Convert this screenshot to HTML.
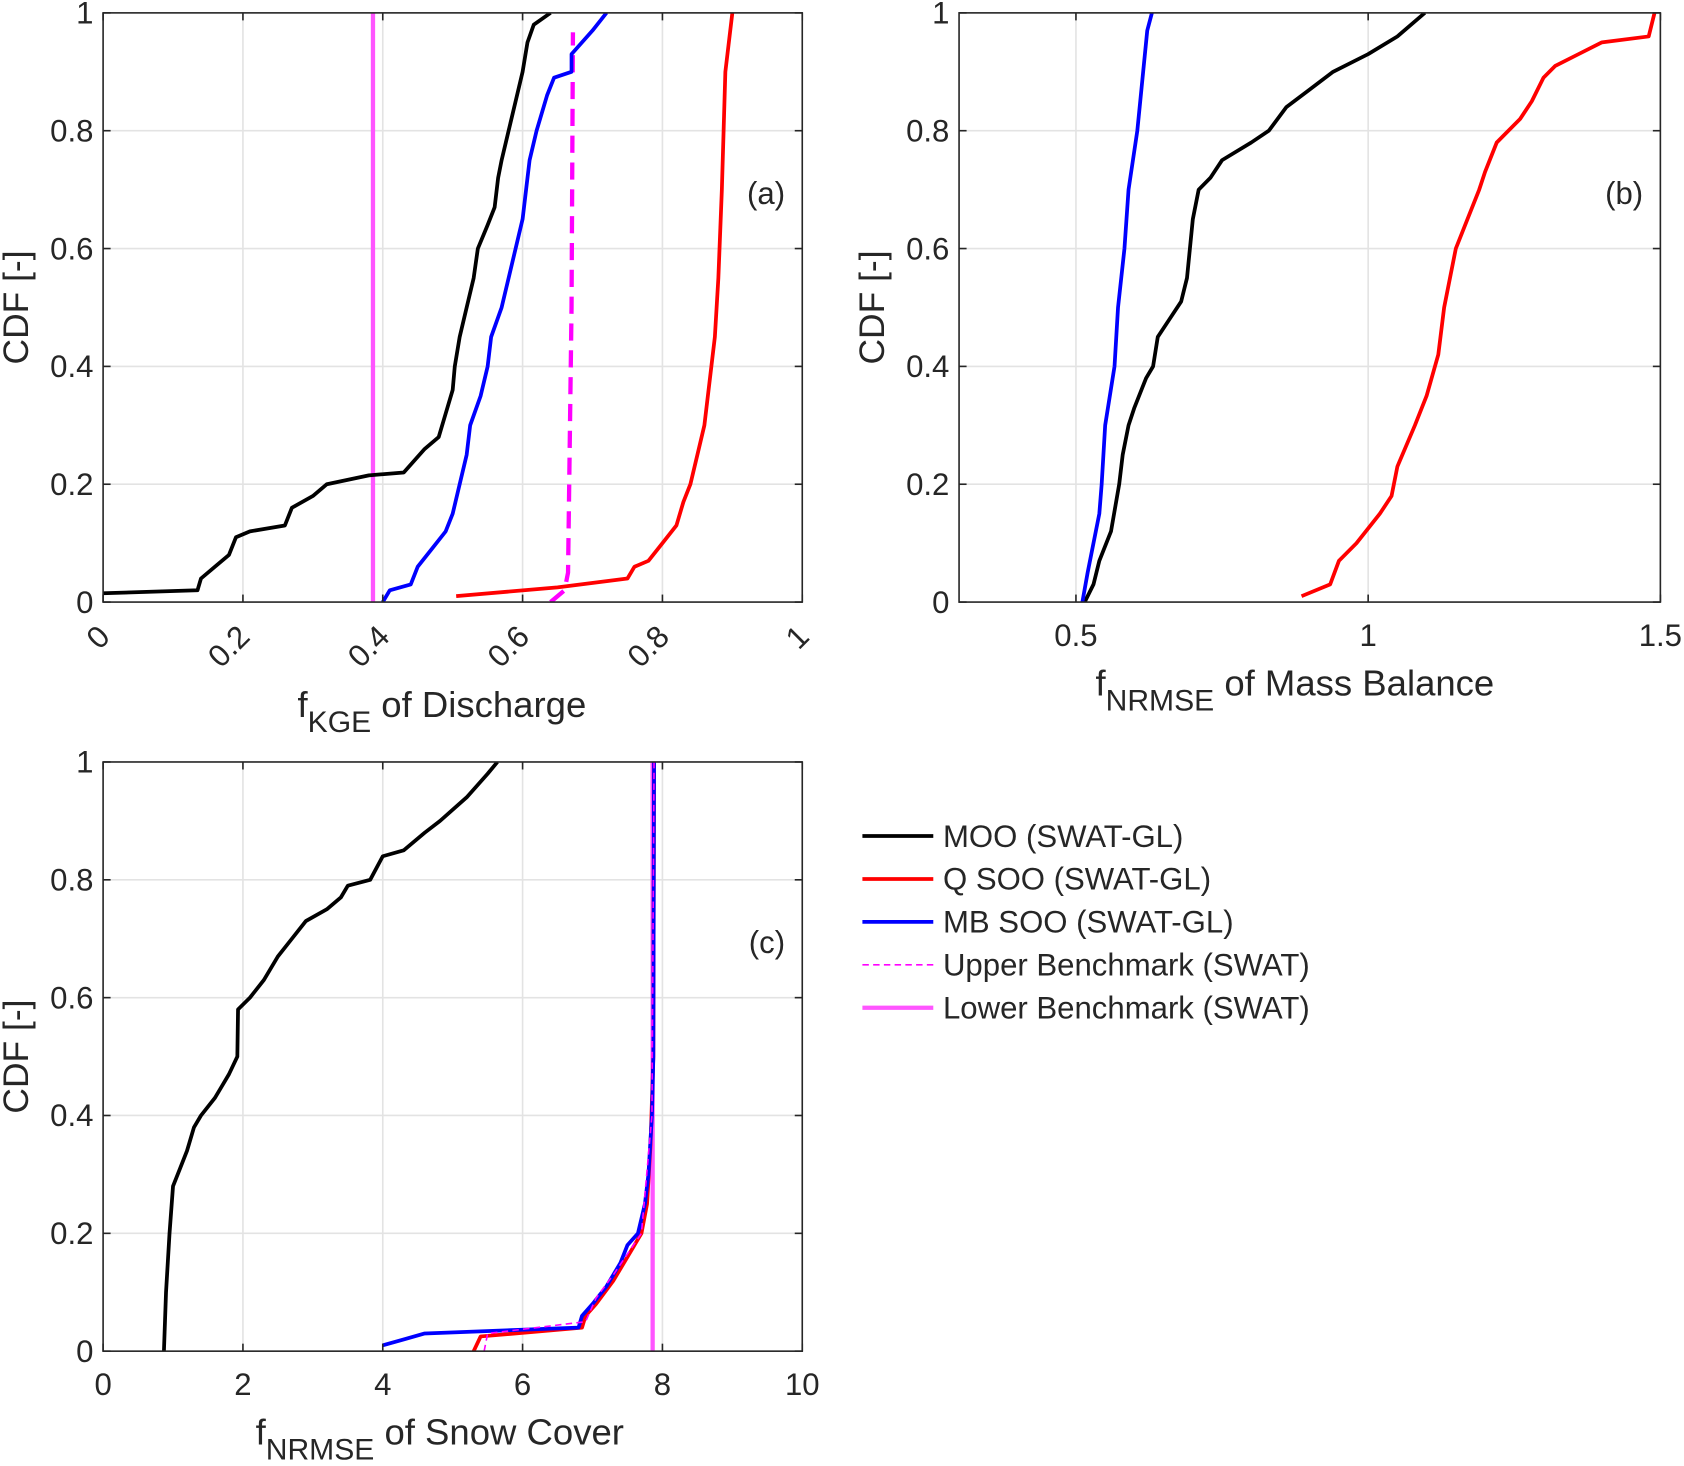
<!DOCTYPE html>
<html><head><meta charset="utf-8"><style>body{margin:0;background:#fff}svg{display:block}text{font-family:"Liberation Sans",sans-serif;fill:#262626}</style></head>
<body>
<svg id="fig" width="1684" height="1466" viewBox="0 0 1568 1366" preserveAspectRatio="none" xmlns="http://www.w3.org/2000/svg"></svg>
<script>
// Panel (a) data
const aMoo=[[0,0.015],[0.135,0.02],[0.14,0.04],[0.16,0.06],[0.18,0.08],[0.19,0.11],[0.21,0.12],[0.26,0.13],[0.27,0.16],[0.3,0.18],[0.32,0.2],[0.38,0.215],[0.43,0.22],[0.46,0.26],[0.48,0.28],[0.49,0.32],[0.5,0.36],[0.503,0.4],[0.51,0.45],[0.52,0.5],[0.53,0.55],[0.536,0.6],[0.55,0.64],[0.56,0.67],[0.565,0.72],[0.57,0.75],[0.58,0.8],[0.59,0.85],[0.6,0.9],[0.607,0.95],[0.616,0.98],[0.64,1]];
const aQ=[[0.505,0.01],[0.65,0.025],[0.75,0.04],[0.76,0.06],[0.78,0.07],[0.8,0.1],[0.82,0.13],[0.83,0.17],[0.84,0.2],[0.85,0.25],[0.86,0.3],[0.87,0.4],[0.875,0.45],[0.88,0.55],[0.885,0.7],[0.89,0.9],[0.9,1]];
const aMb=[[0.4,0],[0.41,0.02],[0.44,0.03],[0.45,0.06],[0.47,0.09],[0.49,0.12],[0.5,0.15],[0.51,0.2],[0.52,0.25],[0.525,0.3],[0.54,0.35],[0.55,0.4],[0.555,0.45],[0.57,0.5],[0.58,0.55],[0.59,0.6],[0.6,0.65],[0.605,0.7],[0.61,0.75],[0.62,0.8],[0.635,0.86],[0.645,0.89],[0.67,0.9],[0.67,0.93],[0.7,0.97],[0.72,1]];
const aUpper=[[0.64,0],[0.66,0.02],[0.665,0.05],[0.67,0.5],[0.672,0.967]];
const aLower=0.386;
// Panel (b) data
const bMoo=[[0.515,0],[0.53,0.03],[0.54,0.07],[0.56,0.12],[0.574,0.2],[0.58,0.25],[0.59,0.3],[0.6,0.33],[0.62,0.38],[0.632,0.4],[0.64,0.45],[0.66,0.48],[0.68,0.51],[0.69,0.55],[0.7,0.65],[0.71,0.7],[0.73,0.72],[0.75,0.75],[0.8,0.78],[0.83,0.8],[0.86,0.84],[0.9,0.87],[0.94,0.9],[1.0,0.93],[1.05,0.96],[1.097,1]];
const bQ=[[0.886,0.01],[0.935,0.03],[0.95,0.07],[0.98,0.1],[1.02,0.15],[1.04,0.18],[1.05,0.23],[1.08,0.3],[1.1,0.35],[1.12,0.42],[1.13,0.5],[1.14,0.55],[1.15,0.6],[1.17,0.65],[1.19,0.7],[1.2,0.73],[1.22,0.78],[1.26,0.82],[1.28,0.85],[1.3,0.89],[1.32,0.91],[1.36,0.93],[1.4,0.95],[1.48,0.96],[1.49,1]];
const bMb=[[0.511,0],[0.52,0.05],[0.53,0.1],[0.54,0.15],[0.544,0.2],[0.55,0.3],[0.566,0.4],[0.572,0.5],[0.583,0.6],[0.59,0.7],[0.605,0.8],[0.61,0.85],[0.615,0.9],[0.622,0.97],[0.63,1]];
// Panel (c) data
const cMoo=[[0.87,0],[0.9,0.1],[0.95,0.2],[1.0,0.28],[1.1,0.31],[1.2,0.34],[1.3,0.38],[1.4,0.4],[1.6,0.43],[1.7,0.45],[1.8,0.47],[1.92,0.5],[1.93,0.58],[2.1,0.6],[2.3,0.63],[2.5,0.67],[2.7,0.7],[2.9,0.73],[3.2,0.75],[3.4,0.77],[3.5,0.79],[3.82,0.8],[4.0,0.84],[4.3,0.85],[4.6,0.88],[4.82,0.9],[5.2,0.94],[5.5,0.98],[5.64,1]];
const cQ=[[5.3,0],[5.4,0.025],[6.85,0.04],[6.9,0.06],[7.05,0.08],[7.3,0.12],[7.5,0.16],[7.7,0.2],[7.78,0.25],[7.83,0.35],[7.87,0.5],[7.88,1]];
const cMb=[[4.0,0.01],[4.3,0.02],[4.6,0.03],[6.8,0.04],[6.85,0.06],[7.0,0.08],[7.2,0.11],[7.4,0.15],[7.5,0.18],[7.65,0.2],[7.75,0.25],[7.8,0.3],[7.85,0.4],[7.87,0.5],[7.88,1]];
const cUpper=[[5.45,0],[5.5,0.03],[6.9,0.05],[7.05,0.09],[7.3,0.13],[7.7,0.2],[7.85,0.4],[7.88,1]];
const cLower=7.86;
const yTicks=[0,0.2,0.4,0.6,0.8,1];
const aTicks=[0,0.2,0.4,0.6,0.8,1], aTickLabels=["0","0.2","0.4","0.6","0.8","1"];
const bTicks=[0.5,1,1.5], bTickLabels=["0.5","1","1.5"];
const cTicks=[0,2,4,6,8,10], cTickLabels=["0","2","4","6","8","10"];
const yTickLabels=["0","0.2","0.4","0.6","0.8","1"];

const NS="http://www.w3.org/2000/svg", svg=document.getElementById('fig');
function mk(t,a,p){const e=document.createElementNS(NS,t);for(const k in a)e.setAttribute(k,a[k]);(p||svg).appendChild(e);return e;}
function panel(name,L,T,R,B,x0,x1,xt,xtl,rot,label,sub,rest,tag,series,lower){
  const g=mk('g',{});
  
  
  const sx=v=>L+(v-x0)/(x1-x0)*(R-L), sy=v=>B-v*(B-T);
  mk('rect',{x:L,y:T,width:R-L,height:B-T,fill:'#fff'},g);
  xt.forEach(v=>{if(v>x0&&v<x1)mk('line',{x1:sx(v),x2:sx(v),y1:T,y2:B,stroke:'#e3e3e3','stroke-width':1.5},g);});
  yTicks.forEach(v=>{if(v>0&&v<1)mk('line',{x1:L,x2:R,y1:sy(v),y2:sy(v),stroke:'#e3e3e3','stroke-width':1.5},g);});
  const clip='clip-'+name;const cp=mk('clipPath',{id:clip},g);mk('rect',{x:L,y:T,width:R-L,height:B-T},cp);
  const sg=mk('g',{'clip-path':'url(#'+clip+')'},g);
  if(lower!==null){const l=mk('line',{x1:sx(lower),x2:sx(lower),y1:T,y2:B,stroke:'#ff55ff','stroke-width':4},sg);
    
    }
  series.forEach(s=>{const p=mk('polyline',{points:s.d.map(q=>sx(q[0])+','+sy(q[1])).join(' '),fill:'none',stroke:s.c,'stroke-width':s.w,'stroke-dasharray':s.dash||'none','stroke-linejoin':'round'},sg);
    
    });
  mk('rect',{x:L,y:T,width:R-L,height:B-T,fill:'none',stroke:'#262626','stroke-width':1.5},g);
  xt.forEach((v,i)=>{const x=sx(v);mk('line',{x1:x,x2:x,y1:B,y2:B-7,stroke:'#262626','stroke-width':1.5},g);mk('line',{x1:x,x2:x,y1:T,y2:T+7,stroke:'#262626','stroke-width':1.5},g);
    const t=mk('text',rot?{x:x+8,y:B+34,'font-size':29,'text-anchor':'end',transform:`rotate(-45 ${x+8} ${B+34})`}:{x:x,y:B+41,'font-size':29,'text-anchor':'middle'},g);t.textContent=xtl[i];
    
    });
  yTicks.forEach((v,i)=>{const y=sy(v);mk('line',{x1:L,x2:L+7,y1:y,y2:y,stroke:'#262626','stroke-width':1.5},g);mk('line',{x1:R,x2:R-7,y1:y,y2:y,stroke:'#262626','stroke-width':1.5},g);
    const t=mk('text',{x:L-9,y:y+10,'font-size':29,'text-anchor':'end'},g);t.textContent=yTickLabels[i];
    
    });
  const yl=mk('text',{x:L-70,y:(T+B)/2,'font-size':33,'text-anchor':'middle',transform:`rotate(-90 ${L-70} ${(T+B)/2})`},g);yl.textContent='CDF [-]';
  
  
  const xl=mk('text',{x:label[0],y:label[1],'font-size':34},g);
  
  
  const t1=mk('tspan',{},xl);t1.textContent='f';
  const t2=mk('tspan',{dy:14,'font-size':28},xl);t2.textContent=sub;
  const t3=mk('tspan',{dy:-14},xl);t3.textContent=' '+rest;
  const tg=mk('text',{x:R-16,y:T+178,'font-size':29,'text-anchor':'end'},g);tg.textContent=tag;
  
  
}
const blk='#000',red='#ff0000',blu='#0000ff',mag='#ff00ff';
panel('panel-a',96,12,747,561,0,1,aTicks,aTickLabels,true,[277,668],'KGE','of Discharge','(a)',
 [{d:aUpper,c:mag,w:4,dash:'16 9',n:'upper-benchmark-line'},{d:aQ,c:red,w:3.5,n:'q-soo-line'},{d:aMb,c:blu,w:3.5,n:'mb-soo-line'},{d:aMoo,c:blk,w:3.5,n:'moo-line'}],aLower);
panel('panel-b',893,12,1546,561,0.3,1.5,bTicks,bTickLabels,false,[1020,648],'NRMSE','of Mass Balance','(b)',
 [{d:bQ,c:red,w:3.5,n:'q-soo-line'},{d:bMoo,c:blk,w:3.5,n:'moo-line'},{d:bMb,c:blu,w:3.5,n:'mb-soo-line'}],null);
panel('panel-c',96,710,747,1259,0,10,cTicks,cTickLabels,false,[238,1346],'NRMSE','of Snow Cover','(c)',
 [{d:cMoo,c:blk,w:3.5,n:'moo-line'},{d:cQ,c:red,w:3.5,n:'q-soo-line'},{d:cMb,c:blu,w:3.5,n:'mb-soo-line'},{d:cUpper,c:mag,w:1.5,dash:'6 4',n:'upper-benchmark-line'}],cLower);
// legend
const legNames=['MOO (SWAT-GL)','Q SOO (SWAT-GL)','MB SOO (SWAT-GL)','Upper Benchmark (SWAT)','Lower Benchmark (SWAT)'];
const legColors=[blk,red,blu,mag,'#ff55ff'], legW=[3.5,3.5,3.5,1.5,4], legDash=['none','none','none','6 4','none'];
const lg=mk('g',{});


legNames.forEach((n,i)=>{const y=779+i*40;
  mk('line',{x1:803,x2:869,y1:y,y2:y,stroke:legColors[i],'stroke-width':legW[i],'stroke-dasharray':legDash[i]},lg);
  const t=mk('text',{x:878,y:y+10,'font-size':29},lg);t.textContent=n;
  
  });
</script>
</body></html>
